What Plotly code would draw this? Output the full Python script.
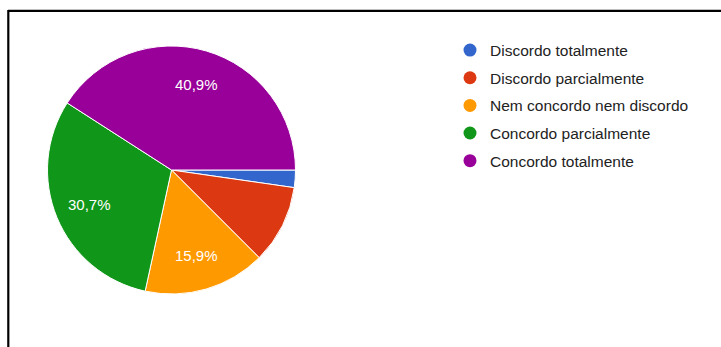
import math
import plotly.graph_objects as go

# Survey answers (88 responses)
categories = [
    "Discordo totalmente",
    "Discordo parcialmente",
    "Nem concordo nem discordo",
    "Concordo parcialmente",
    "Concordo totalmente",
]
counts = [2, 9, 14, 27, 36]
colors = ["#3366cc", "#dc3912", "#ff9900", "#109618", "#990099"]

total = sum(counts)

W, H = 721, 347
cx, cy, r = 171.5, 170.0, 124.0
start_deg = 90  # first slice starts at 3 o'clock, going clockwise

fig = go.Figure()

fig.add_trace(go.Pie(
    labels=categories,
    values=counts,
    textinfo="none",
    marker=dict(colors=colors, line=dict(color="white", width=1)),
    sort=False,
    direction="clockwise",
    rotation=start_deg,
    showlegend=False,
    hoverinfo="label+percent",
    domain=dict(
        x=[(cx - r) / W, (cx + r) / W],
        y=[(H - cy - r) / H, (H - cy + r) / H],
    ),
))

# percentage labels placed at 72% of the radius on each slice's mid-angle;
# slices under 12% stay unlabelled
acc = 0.0
for c in counts:
    share = c / total
    mid = math.radians(start_deg + 360 * (acc + share / 2))
    acc += share
    if share < 0.12:
        continue
    px = cx + 0.72 * r * math.sin(mid)
    py = cy - 0.72 * r * math.cos(mid)
    fig.add_annotation(
        x=px / W, y=(H - py) / H, xref="paper", yref="paper",
        xanchor="center", yanchor="middle",
        text=f"{share * 100:.1f}%".replace(".", ","),
        showarrow=False,
        font=dict(family="Arial", size=15, color="white"),
    )

# legend entries with round markers
for i, (name, col) in enumerate(zip(categories, colors)):
    fig.add_trace(go.Scatter(
        x=[None], y=[None], mode="markers", name=name,
        legendgroup=f"g{i}",
        marker=dict(symbol="circle", size=13, color=col),
    ))

# frame lines (top and left)
fig.add_shape(type="line", xref="paper", yref="paper",
              x0=8 / W, x1=1, y0=(H - 10.8) / H, y1=(H - 10.8) / H,
              line=dict(color="black", width=2.3))
fig.add_shape(type="line", xref="paper", yref="paper",
              x0=8.3 / W, x1=8.3 / W, y0=0, y1=(H - 10) / H,
              line=dict(color="black", width=2.2))

fig.update_layout(
    width=W, height=H,
    margin=dict(l=0, r=0, t=0, b=0),
    paper_bgcolor="white",
    plot_bgcolor="white",
    xaxis=dict(visible=False),
    yaxis=dict(visible=False),
    legend=dict(
        x=(471 - 21) / W, y=(H - 33.5) / H,
        xanchor="left", yanchor="top",
        font=dict(family="Arial", size=15.5, color="#222222"),
        itemsizing="trace",
        tracegroupgap=4.5,
        bgcolor="rgba(0,0,0,0)",
    ),
)

fig.write_html("out.html")
